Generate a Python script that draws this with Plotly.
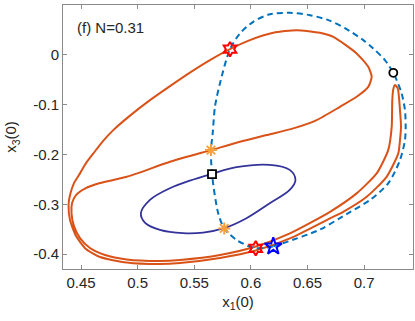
import plotly.graph_objects as go

# orange trajectory (closed orbit)
orbit_x = [0.4390, 0.4403, 0.4438, 0.4491, 0.4544, 0.4609, 0.4694, 0.4785, 0.4933, 0.5109,
           0.5286, 0.5462, 0.5639, 0.5816, 0.5992, 0.6198, 0.6405, 0.6610, 0.6728, 0.6934,
           0.7037, 0.7067, 0.7037, 0.6934, 0.6787, 0.6581, 0.6375, 0.6140, 0.5904, 0.5648,
           0.5286, 0.4904, 0.4668, 0.4535, 0.4456, 0.4421, 0.4416, 0.4438, 0.4491, 0.4579,
           0.4712, 0.4904, 0.5198, 0.5374, 0.5727, 0.6043, 0.6345, 0.6699, 0.6934, 0.7111,
           0.7213, 0.7244, 0.7249, 0.7258, 0.7273, 0.7297, 0.7317, 0.7326, 0.7317, 0.7302,
           0.7199, 0.7023, 0.6816, 0.6699, 0.6345, 0.6043, 0.5727, 0.5374, 0.5198, 0.4904,
           0.4668, 0.4544, 0.4456, 0.4403, 0.4390]
orbit_y = [-0.3016, -0.2815, -0.2574, -0.2379, -0.2173, -0.1978, -0.1731, -0.1510, -0.1219, -0.0908,
           -0.0626, -0.0355, -0.0104, 0.0116, 0.0297, 0.0444, 0.0498, 0.0444, 0.0363, 0.0030,
           -0.0239, -0.0440, -0.0641, -0.0841, -0.1042, -0.1309, -0.1476, -0.1610, -0.1745, -0.1912,
           -0.2147, -0.2448, -0.2574, -0.2685, -0.2815, -0.2976, -0.3177, -0.3438, -0.3679, -0.3879,
           -0.4020, -0.4110, -0.4140, -0.4120, -0.4020, -0.3849, -0.3584, -0.3151, -0.2781, -0.2379,
           -0.1912, -0.1444, -0.0908, -0.0687, -0.0606, -0.0667, -0.1108, -0.1444, -0.1711, -0.1978,
           -0.2448, -0.2849, -0.3151, -0.3283, -0.3685, -0.3930, -0.4080, -0.4181, -0.4201, -0.4171,
           -0.4060, -0.3899, -0.3638, -0.3317, -0.3016]

# small indigo loop
loop_x = [0.5029, 0.5109, 0.5285, 0.5461, 0.5655, 0.5873, 0.6167, 0.6343, 0.6394, 0.6343,
          0.6167, 0.5961, 0.5764, 0.5579, 0.5402, 0.5197, 0.5064, 0.5029]
loop_y = [-0.3179, -0.2912, -0.2677, -0.2524, -0.2390, -0.2255, -0.2209, -0.2309, -0.2510, -0.2711,
          -0.2978, -0.3279, -0.3480, -0.3568, -0.3580, -0.3514, -0.3367, -0.3179]

# dashed boundary curve
bound_x = [0.6043, 0.6198, 0.6301, 0.6610, 0.6787, 0.6875, 0.7051, 0.7213, 0.7317, 0.7361,
           0.7367, 0.7361, 0.7332, 0.7288, 0.7258, 0.7184, 0.7081, 0.6993, 0.6831, 0.6684,
           0.6522, 0.6345, 0.6169, 0.6021, 0.5904, 0.5816, 0.5727, 0.5683, 0.5663, 0.5648,
           0.5657, 0.5712, 0.5765, 0.5875, 0.5992, 0.6043]
bound_y = [-0.3885, -0.3845, -0.3769, -0.3508, -0.3277, -0.3157, -0.2916, -0.2580, -0.2112, -0.1711,
           -0.1444, -0.1108, -0.0773, -0.0506, -0.0359, -0.0104, 0.0131, 0.0297, 0.0538, 0.0699,
           0.0799, 0.0845, 0.0819, 0.0665, 0.0432, 0.0116, -0.0572, -0.1042, -0.1576, -0.1912,
           -0.2394, -0.3183, -0.3484, -0.3719, -0.3853, -0.3885]

# special points
red_x, red_y = [0.5816, 0.6043], [0.0116, -0.3885]
ast_x, ast_y = [0.5648, 0.5765], [-0.1912, -0.3484]
sq_x, sq_y = [0.5657], [-0.2394]
circ_x, circ_y = [0.7258], [-0.0359]
blue_x, blue_y = [0.6198], [-0.3845]

xticks = [0.45, 0.5, 0.55, 0.6, 0.65, 0.7]
xlabels = ["0.45", "0.5", "0.55", "0.6", "0.65", "0.7"]
yticks = [0.1, 0, -0.1, -0.2, -0.3, -0.4]
ylabels = ["0.1", "0", "-0.1", "-0.2", "-0.3", "-0.4"]

fig = go.Figure()
fig.add_trace(go.Scatter(x=orbit_x, y=orbit_y, mode="lines",
                         line=dict(color="#D95319", width=2, shape="spline", smoothing=0.6)))
fig.add_trace(go.Scatter(x=loop_x, y=loop_y, mode="lines",
                         line=dict(color="#33339A", width=1.8, shape="spline", smoothing=1)))
fig.add_trace(go.Scatter(x=bound_x, y=bound_y, mode="lines",
                         line=dict(color="#0072BD", width=2, dash="6px,4px",
                                   shape="spline", smoothing=0.8)))
fig.add_trace(go.Scatter(x=red_x, y=red_y, mode="markers",
                         marker=dict(symbol="hexagram-open", size=11, color="red",
                                     line=dict(width=2, color="red"))))
fig.add_trace(go.Scatter(x=ast_x, y=ast_y, mode="markers",
                         marker=dict(symbol="asterisk-open", size=10, color="#F5A040",
                                     line=dict(width=2, color="#F5A040"))))
fig.add_trace(go.Scatter(x=sq_x, y=sq_y, mode="markers",
                         marker=dict(symbol="square", size=8, color="white",
                                     line=dict(width=1.8, color="black"))))
fig.add_trace(go.Scatter(x=circ_x, y=circ_y, mode="markers",
                         marker=dict(symbol="circle", size=8, color="white",
                                     line=dict(width=1.8, color="black"))))
fig.add_trace(go.Scatter(x=blue_x, y=blue_y, mode="markers",
                         marker=dict(symbol="star-open", size=13, color="blue",
                                     line=dict(width=2, color="blue"))))

axis_style = dict(showline=True, linecolor="#8a8a8a", linewidth=1, mirror="ticks",
                  ticks="inside", ticklen=4, tickcolor="#8a8a8a", showgrid=False,
                  zeroline=False, automargin=False,
                  tickfont=dict(size=15, color="#262626"))

fig.update_xaxes(range=[0.4341, 0.7432], tickvals=xticks, ticktext=xlabels,
                 title=dict(text="x<sub>1</sub>(0)", font=dict(size=15, color="#262626"),
                            standoff=6), **axis_style)
fig.update_yaxes(range=[-0.430, 0.1003], tickvals=yticks, ticktext=ylabels,
                 title=dict(text="x<sub>3</sub>(0)", font=dict(size=15, color="#262626"),
                            standoff=12), **axis_style)

fig.add_annotation(x=0.035, y=0.915, xref="paper", yref="paper", text="(f) N=0.31",
                   showarrow=False, xanchor="left", yanchor="middle",
                   font=dict(size=15, color="#262626"))

fig.update_layout(width=415, height=321, showlegend=False,
                  margin=dict(l=63, r=2, t=5, b=52),
                  plot_bgcolor="white", paper_bgcolor="white",
                  font=dict(family="Liberation Sans, Arial, sans-serif"))

# drop the page's default body margin so the figure sits at the window corner
fig.write_html("out.html", config={"displayModeBar": False},
               post_script="document.body.style.margin='0';")
